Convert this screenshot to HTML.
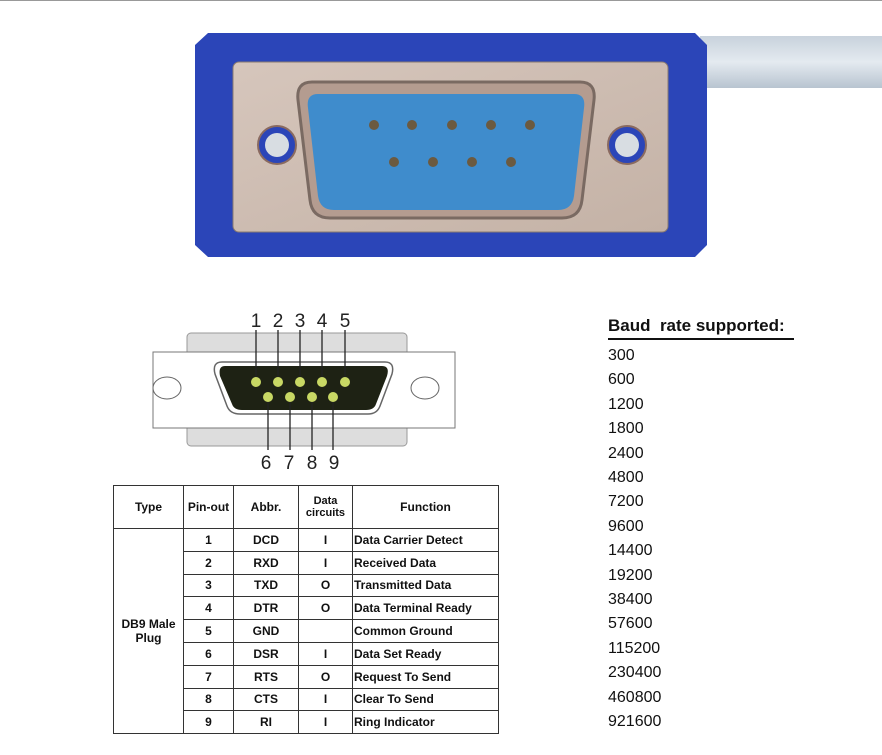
<!DOCTYPE html>
<html><head><style>
body{margin:0;width:882px;height:755px;background:#fff;position:relative;overflow:hidden;font-family:"Liberation Sans",sans-serif}
.abs{position:absolute}
table{position:absolute;left:113px;top:485px;border-collapse:collapse;font-size:12px;font-weight:bold;color:#111}
td{border:1px solid #333;padding:0;height:21.8px;text-align:center}
td.f{text-align:left;padding-left:1px}
.baud{position:absolute;left:608px;font-size:16px;color:#111}
</style></head><body>
<div class="abs" style="left:0;top:0;width:882px;height:1px;background:#999"></div>
<svg class="abs" style="left:0;top:0" width="882" height="300">
<defs>
<linearGradient id="cb" x1="0" y1="0" x2="0" y2="1"><stop offset="0" stop-color="#c8d2dc"/><stop offset="0.5" stop-color="#e4eaf0"/><stop offset="1" stop-color="#b8c4d0"/></linearGradient>
<linearGradient id="mt" x1="0" y1="0" x2="1" y2="1"><stop offset="0" stop-color="#d6c6bc"/><stop offset="1" stop-color="#c4b2a6"/></linearGradient>
</defs>
<rect x="700" y="36" width="182" height="52" fill="url(#cb)"/>
<path d="M208 33 H695 L707 45 V245 L695 257 H208 L195 245 V45 Z" fill="#2b45b8"/>
<rect x="233" y="62" width="435" height="170" rx="6" fill="url(#mt)" stroke="#8a7a70"/>
<path d="M312 82 H580 Q596 82 594 100 L582 200 Q580 218 562 218 H330 Q312 218 310 200 L298 100 Q296 82 312 82 Z" fill="#b49c90" stroke="#7a6a62" stroke-width="3"/>
<path d="M318 94 H574 Q586 94 584 108 L574 196 Q572 210 558 210 H334 Q320 210 318 196 L308 108 Q306 94 318 94 Z" fill="#3f8ccc"/>
<g fill="#6b5a40"><circle cx="374" cy="125" r="5"/><circle cx="412" cy="125" r="5"/><circle cx="452" cy="125" r="5"/><circle cx="491" cy="125" r="5"/><circle cx="530" cy="125" r="5"/><circle cx="394" cy="162" r="5"/><circle cx="433" cy="162" r="5"/><circle cx="472" cy="162" r="5"/><circle cx="511" cy="162" r="5"/></g>
<circle cx="277" cy="145" r="19" fill="#2b45b8" stroke="#8a6a60" stroke-width="2"/><circle cx="277" cy="145" r="12" fill="#d8dde2"/>
<circle cx="627" cy="145" r="19" fill="#2b45b8" stroke="#8a6a60" stroke-width="2"/><circle cx="627" cy="145" r="12" fill="#d8dde2"/>
</svg>
<svg class="abs" style="left:130px;top:300px" width="350" height="180" font-family="Liberation Sans" font-size="19" fill="#222">
<rect x="57" y="33" width="220" height="113" rx="4" fill="#ddd" stroke="#999"/>
<rect x="23" y="52" width="302" height="76" fill="#fff" stroke="#777"/>
<path d="M92 62 H255 Q265 62 262 74 L250 106 Q247 114 238 114 H110 Q100 114 97 106 L85 74 Q82 62 92 62 Z" fill="#fff" stroke="#666" stroke-width="1.5"/>
<path d="M95 66 H252 Q260 66 257 76 L246 104 Q244 110 236 110 H112 Q104 110 102 104 L90 76 Q88 66 95 66 Z" fill="#1e2214"/>
<ellipse cx="37" cy="88" rx="14" ry="11" fill="#fff" stroke="#666"/><ellipse cx="295" cy="88" rx="14" ry="11" fill="#fff" stroke="#666"/>
<g stroke="#222" stroke-width="1.3"><line x1="126" y1="30" x2="126" y2="80"/><line x1="148" y1="30" x2="148" y2="80"/><line x1="170" y1="30" x2="170" y2="80"/><line x1="192" y1="30" x2="192" y2="80"/><line x1="215" y1="30" x2="215" y2="80"/><line x1="138" y1="97" x2="138" y2="150"/><line x1="160" y1="97" x2="160" y2="150"/><line x1="182" y1="97" x2="182" y2="150"/><line x1="203" y1="97" x2="203" y2="150"/></g>
<g fill="#c8d864"><circle cx="126" cy="82" r="5"/><circle cx="148" cy="82" r="5"/><circle cx="170" cy="82" r="5"/><circle cx="192" cy="82" r="5"/><circle cx="215" cy="82" r="5"/><circle cx="138" cy="97" r="5"/><circle cx="160" cy="97" r="5"/><circle cx="182" cy="97" r="5"/><circle cx="203" cy="97" r="5"/></g>
<g text-anchor="middle"><text x="126" y="27">1</text><text x="148" y="27">2</text><text x="170" y="27">3</text><text x="192" y="27">4</text><text x="215" y="27">5</text><text x="136" y="169">6</text><text x="159" y="169">7</text><text x="182" y="169">8</text><text x="204" y="169">9</text></g>
</svg>
<table>
<tr style="height:42px"><td style="width:69px;height:42px">Type</td><td style="width:49px">Pin-out</td><td style="width:64px">Abbr.</td><td style="width:53px;font-size:11px">Data<br>circuits</td><td style="width:145px">Function</td></tr>
<tr><td rowspan="9">DB9 Male<br>Plug</td><td>1</td><td>DCD</td><td>I</td><td class="f">Data Carrier Detect</td></tr>
<tr><td>2</td><td>RXD</td><td>I</td><td class="f">Received Data</td></tr>
<tr><td>3</td><td>TXD</td><td>O</td><td class="f">Transmitted Data</td></tr>
<tr><td>4</td><td>DTR</td><td>O</td><td class="f">Data Terminal Ready</td></tr>
<tr><td>5</td><td>GND</td><td></td><td class="f">Common Ground</td></tr>
<tr><td>6</td><td>DSR</td><td>I</td><td class="f">Data Set Ready</td></tr>
<tr><td>7</td><td>RTS</td><td>O</td><td class="f">Request To Send</td></tr>
<tr><td>8</td><td>CTS</td><td>I</td><td class="f">Clear To Send</td></tr>
<tr><td>9</td><td>RI</td><td>I</td><td class="f">Ring Indicator</td></tr>
</table>
<div class="baud" style="top:316px;font-weight:bold;font-size:17px;width:186px;border-bottom:2px solid #111;padding-bottom:2px;white-space:nowrap">Baud&nbsp; rate supported:</div>
<div class="baud" style="top:344px;line-height:24.4px">300<br>600<br>1200<br>1800<br>2400<br>4800<br>7200<br>9600<br>14400<br>19200<br>38400<br>57600<br>115200<br>230400<br>460800<br>921600</div>
</body></html>
